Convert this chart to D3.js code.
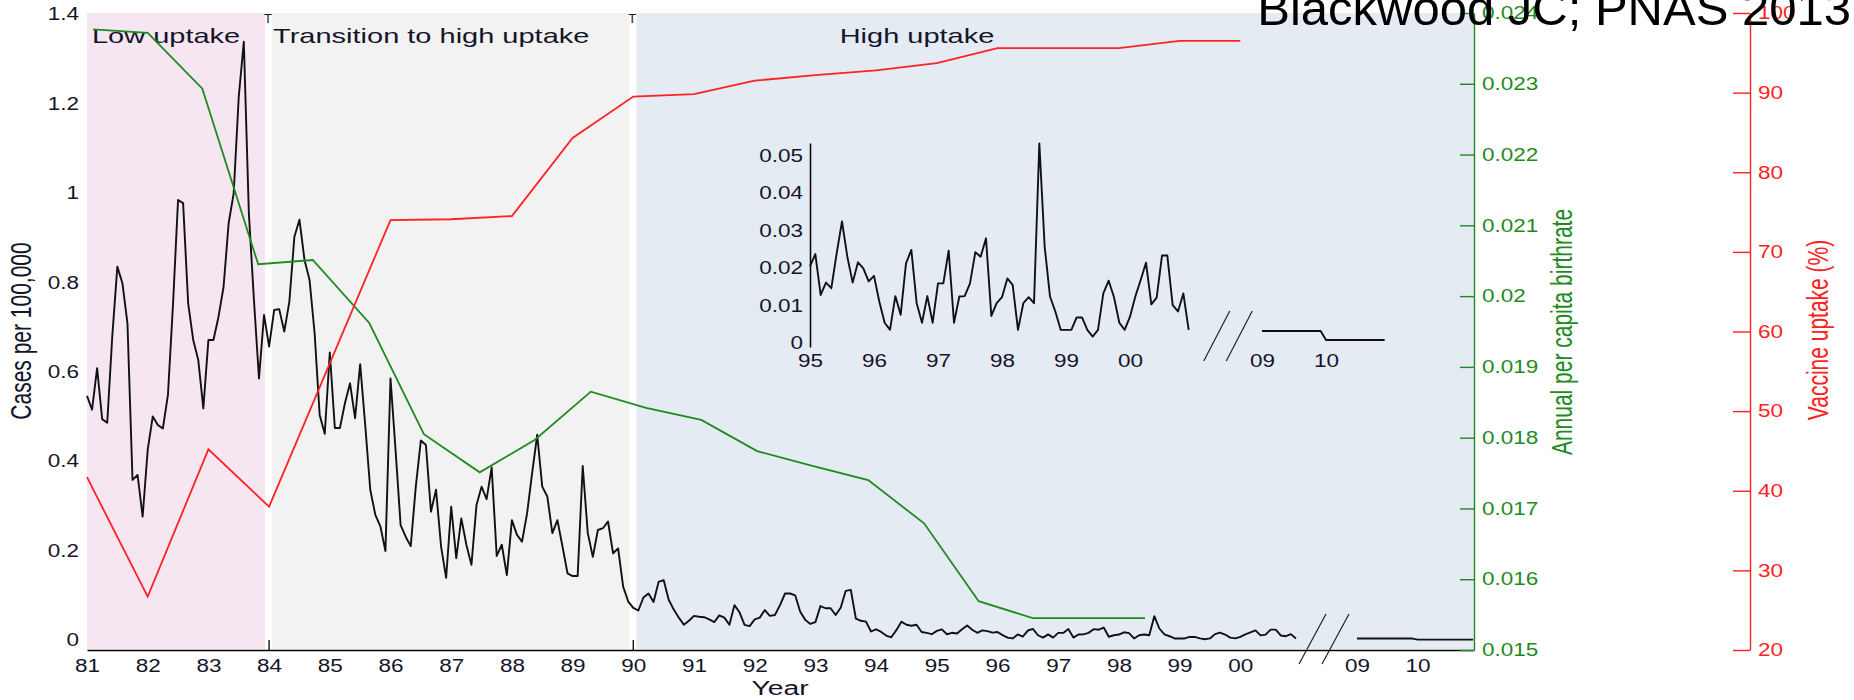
<!DOCTYPE html>
<html>
<head>
<meta charset="utf-8">
<script src="https://cdn.jsdelivr.net/npm/d3@7"></script>
<style>
  html, body { margin: 0; padding: 0; background: #fff; }
  svg { display: block; }
</style>
</head>
<body>
<svg id="chart" width="1854" height="700"></svg>
<script>
// monthly cases per 100,000 (Jan 1981 - Dec 1994)
const cases8194 = [
  0.546, 0.515, 0.608, 0.494, 0.486, 0.68, 0.835, 0.798, 0.708, 0.358, 0.369, 0.276,
  0.425, 0.500, 0.481, 0.473, 0.548, 0.75, 0.984, 0.977, 0.753, 0.671, 0.626, 0.518,
  0.671, 0.671, 0.723, 0.790, 0.932, 0.999, 1.215, 1.338, 0.954, 0.761, 0.585, 0.727,
  0.656, 0.738, 0.740, 0.690, 0.756, 0.902, 0.940, 0.850, 0.805, 0.686, 0.503, 0.461,
  0.643, 0.474, 0.474, 0.530, 0.574, 0.496, 0.617, 0.481, 0.336, 0.280, 0.254, 0.199,
  0.585, 0.425, 0.257, 0.231, 0.210, 0.343, 0.446, 0.436, 0.287, 0.336, 0.209, 0.139,
  0.298, 0.183, 0.272, 0.213, 0.168, 0.302, 0.343, 0.315, 0.386, 0.188, 0.213, 0.145,
  0.268, 0.235, 0.220, 0.283, 0.373, 0.459, 0.343, 0.321, 0.239, 0.268, 0.209, 0.149,
  0.143, 0.143, 0.389, 0.239, 0.186, 0.246, 0.250, 0.265, 0.194, 0.205, 0.119, 0.086,
  0.072, 0.066, 0.095, 0.104, 0.085, 0.130, 0.134, 0.090, 0.068, 0.050, 0.034, 0.043,
  0.054, 0.052, 0.051, 0.046, 0.040, 0.055, 0.050, 0.034, 0.078, 0.062, 0.034, 0.031,
  0.046, 0.050, 0.067, 0.054, 0.056, 0.078, 0.104, 0.104, 0.100, 0.063, 0.045, 0.036,
  0.040, 0.076, 0.071, 0.071, 0.056, 0.072, 0.110, 0.112, 0.048, 0.043, 0.041, 0.019,
  0.024, 0.018, 0.010, 0.006, 0.022, 0.041, 0.034, 0.032, 0.034, 0.018, 0.016, 0.013
];
// monthly cases (Jan 1995 - Dec 2000)
const cases9500 = [
  0.0204, 0.0237, 0.0128, 0.0161, 0.0146, 0.0239, 0.0324, 0.0230, 0.0161, 0.0215, 0.0199, 0.0164,
  0.0179, 0.0110, 0.0054, 0.0035, 0.0125, 0.0075, 0.0212, 0.0248, 0.0106, 0.0054, 0.0125, 0.0054,
  0.0159, 0.0159, 0.0246, 0.0054, 0.0124, 0.0125, 0.0159, 0.0242, 0.0230, 0.0279, 0.0072, 0.0106,
  0.0122, 0.0172, 0.0155, 0.0035, 0.0106, 0.0122, 0.0106, 0.0532, 0.0257, 0.0124, 0.0084, 0.0035,
  0.0035, 0.0035, 0.0068, 0.0068, 0.0035, 0.0017, 0.0035, 0.0132, 0.0166, 0.0122, 0.0054, 0.0035,
  0.0070, 0.0124, 0.0168, 0.0214, 0.0103, 0.0121, 0.0233, 0.0233, 0.0101, 0.0084, 0.0132, 0.0035
];
// monthly cases (Jan 2009 - Dec 2010)
const cases0910 = [
  0.0032, 0.0032, 0.0032, 0.0032, 0.0032, 0.0032, 0.0032, 0.0032, 0.0032, 0.0032, 0.0032, 0.0032,
  0.0008, 0.0008, 0.0008, 0.0008, 0.0008, 0.0008, 0.0008, 0.0008, 0.0008, 0.0008, 0.0008, 0.0008
];

// annual per capita birthrate (positions as plotted)
const birthYears = [1981.1, 1982.0, 1982.9, 1983.82, 1984.72, 1985.65, 1986.55, 1987.47, 1988.38, 1989.3,
  1990.21, 1991.12, 1992.04, 1992.95, 1993.87, 1994.79, 1995.69, 1996.58, 1997.5, 1998.43];
const birthRates = [0.02377, 0.02372, 0.02293, 0.02045, 0.02051, 0.01962, 0.01805, 0.01751, 0.01797, 0.01865,
  0.01842, 0.01825, 0.01781, 0.01760, 0.01740, 0.01679, 0.01569, 0.01545, 0.01545, 0.01545];

// vaccine uptake (%)
const uptakeYears = [1981, 1982, 1983, 1984, 1986, 1987, 1988, 1989, 1990, 1991, 1992, 1993, 1994, 1995, 1996, 1997, 1998, 1999, 2000];
const uptakeValues = [41.7, 26.7, 45.2, 38.0, 74.0, 74.1, 74.5, 84.3, 89.5, 89.8, 91.5, 92.2, 92.8, 93.7, 95.6, 95.6, 95.6, 96.5, 96.5];

const periodNames = ["Low uptake", "Transition to high uptake", "High uptake"];
const periodBounds = [1981, 1984, 1990, 2010.93];

const xTickYears = [1981, 1982, 1983, 1984, 1985, 1986, 1987, 1988, 1989, 1990, 1991, 1992, 1993, 1994,
  1995, 1996, 1997, 1998, 1999, 2000, 2009, 2010];
const casesTicks = [0, 0.2, 0.4, 0.6, 0.8, 1, 1.2, 1.4];
const birthTicks = [0.015, 0.016, 0.017, 0.018, 0.019, 0.02, 0.021, 0.022, 0.023, 0.024];
const uptakeTicks = [20, 30, 40, 50, 60, 70, 80, 90, 100];
const insetXTicks = [1995, 1996, 1997, 1998, 1999, 2000, 2009, 2010];
const insetYTicks = [0, 0.01, 0.02, 0.03, 0.04, 0.05];

const FONT = '"Liberation Sans", Arial, Helvetica, sans-serif';
const GREEN = "#1f8a1f";
const RED = "#ff2222";
const INK = "#15152a";
const SX = 1.25;      // horizontal stretch of the original figure text
const bgColors = ["#f6e6f1", "#f2f2f2", "#e5ebf3"];

const svg = d3.select("#chart").attr("font-family", FONT);

const x = d3.scaleLinear().domain([1981, 2001, 2009, 2010.93]).range([87, 1301, 1357, 1474]);
const yL = d3.scaleLinear().domain([0, 1.4]).range([640, 14]);
const yG = d3.scaleLinear().domain([0.015, 0.024]).range([650, 13]);
const yR = d3.scaleLinear().domain([20, 100]).range([650, 13]);

const xI = d3.scaleLinear().domain([1995, 2001, 2009, 2011]).range([810, 1194, 1262, 1390]);
const yI = d3.scaleLinear().domain([-0.00107, 0.0533]).range([347, 143]);

const TOP = 13, BOTTOM = 649;

// stretched text helper
function stext(parent, px, py, str, size, opts = {}) {
  const sx = opts.sx || SX;
  const rot = opts.rotate ? ` rotate(${opts.rotate})` : "";
  return parent.append("text")
    .attr("transform", `translate(${px},${py}) scale(${sx},1)${rot}`)
    .attr("font-size", size)
    .attr("text-anchor", opts.anchor || "start")
    .attr("dominant-baseline", opts.baseline || "auto")
    .attr("fill", opts.fill || INK)
    .text(str);
}

function stretchTicks(g, sx) {
  g.selectAll(".tick text").each(function() {
    const t = d3.select(this);
    const tx = +t.attr("x") || 0, ty = +t.attr("y") || 0;
    t.attr("transform", `translate(${tx},${ty}) scale(${sx},1)`).attr("x", null).attr("y", null);
  });
}

// background periods
periodNames.forEach((name, i) => {
  const left = i === 0 ? x(periodBounds[i]) : x(periodBounds[i]) + 3;
  const right = i === periodNames.length - 1 ? x(periodBounds[i + 1]) : x(periodBounds[i + 1]) - 4;
  svg.append("rect")
    .attr("x", left).attr("y", TOP)
    .attr("width", right - left).attr("height", BOTTOM - TOP)
    .attr("fill", bgColors[i]);
});

// period labels
const labelX = [x(1981) + 5, x(1984) + 4, x(1993.4)];
periodNames.forEach((name, i) => {
  stext(svg, labelX[i], 43, name, 20, {sx: 1.45});
});

// little T marks at top of period boundaries
[1984, 1990].forEach(yr => {
  svg.append("text")
    .attr("x", x(yr) - 1).attr("y", 23)
    .attr("font-size", 13).attr("text-anchor", "middle").attr("fill", INK)
    .text("T");
});

// x axis
const gx = svg.append("g")
  .attr("transform", `translate(0,650)`)
  .call(d3.axisBottom(x).tickValues(xTickYears).tickSize(0).tickPadding(9)
    .tickFormat(d => String(d).slice(2)));
gx.attr("font-size", 18).attr("font-family", FONT);
gx.select(".domain").attr("stroke", "#000").attr("stroke-width", 1.6);
gx.selectAll(".tick text").attr("fill", INK);
stretchTicks(gx, SX);

[1984, 1990].forEach(yr => {
  svg.append("line")
    .attr("x1", x(yr)).attr("x2", x(yr)).attr("y1", 640).attr("y2", 650)
    .attr("stroke", "#000").attr("stroke-width", 1.3);
});

stext(svg, 780, 695, "Year", 21, {anchor: "middle", sx: 1.35});

// left axis (labels only)
const gl = svg.append("g")
  .attr("transform", `translate(87,0)`)
  .call(d3.axisLeft(yL).tickValues(casesTicks).tickSize(0).tickPadding(8)
    .tickFormat(d => String(+d.toFixed(1))));
gl.attr("font-size", 18).attr("font-family", FONT);
gl.select(".domain").remove();
gl.selectAll(".tick text").attr("fill", INK);
stretchTicks(gl, SX);

stext(svg, 21, 331, "Cases per 100,000", 21, {anchor: "middle", baseline: "central", rotate: -90, sx: 1.4});

// green axis
const gg = svg.append("g")
  .attr("transform", `translate(1474,0)`)
  .call(d3.axisRight(yG).tickValues(birthTicks).tickSizeInner(-14).tickSizeOuter(0).tickPadding(8)
    .tickFormat(d => String(+d.toFixed(3))));
gg.attr("font-size", 18).attr("font-family", FONT).attr("color", GREEN);
gg.selectAll("path, line").attr("stroke-width", 1.4);
stretchTicks(gg, SX);

stext(svg, 1562, 332, "Annual per capita birthrate", 21, {anchor: "middle", baseline: "central", rotate: -90, sx: 1.4, fill: GREEN});

// red axis
const gr = svg.append("g")
  .attr("transform", `translate(1750,0)`)
  .call(d3.axisRight(yR).tickValues(uptakeTicks).tickSizeInner(-17).tickSizeOuter(0).tickPadding(8));
gr.attr("font-size", 18).attr("font-family", FONT).attr("color", RED);
gr.selectAll("path, line").attr("stroke-width", 1.4);
stretchTicks(gr, SX);

stext(svg, 1818, 330, "Vaccine uptake (%)", 21, {anchor: "middle", baseline: "central", rotate: -90, sx: 1.4, fill: RED});

// axis break marks
function breakMarks(cx, cy, dx, dy, gap) {
  [-gap / 2, gap / 2].forEach(o => {
    svg.append("line")
      .attr("x1", cx + o - dx).attr("y1", cy + dy)
      .attr("x2", cx + o + dx).attr("y2", cy - dy)
      .attr("stroke", "#222").attr("stroke-width", 1.2);
  });
}
breakMarks(1324, 639, 13.5, 25, 23);
breakMarks(1228, 336, 13, 25, 22.5);

// series lines
const mainCases = cases8194.map((v, i) => ({t: 1981 + i / 12, v}))
  .concat(cases9500.map((v, i) => ({t: 1995 + i / 12, v})));
const lateCases = cases0910.map((v, i) => ({t: 2009 + i / 12, v}));

const lineMain = d3.line().x(d => x(d.t)).y(d => yL(d.v));
[mainCases, lateCases].forEach(seg => {
  svg.append("path").datum(seg)
    .attr("d", lineMain)
    .attr("fill", "none").attr("stroke", "#111").attr("stroke-width", 1.9)
    .attr("stroke-linejoin", "round");
});

const birth = birthYears.map((t, i) => ({t, v: birthRates[i]}));
svg.append("path").datum(birth)
  .attr("d", d3.line().x(d => x(d.t)).y(d => yG(d.v)))
  .attr("fill", "none").attr("stroke", GREEN).attr("stroke-width", 1.8);

const uptake = uptakeYears.map((t, i) => ({t, v: uptakeValues[i]}));
svg.append("path").datum(uptake)
  .attr("d", d3.line().x(d => x(d.t)).y(d => yR(d.v)))
  .attr("fill", "none").attr("stroke", RED).attr("stroke-width", 1.8);

// inset
const gi = svg.append("g")
  .attr("transform", `translate(810,0)`)
  .call(d3.axisLeft(yI).tickValues(insetYTicks).tickSize(0).tickPadding(7)
    .tickFormat(d => String(+d.toFixed(2))));
gi.attr("font-size", 18).attr("font-family", FONT);
gi.select(".domain").attr("stroke", "#000").attr("stroke-width", 1.5);
gi.selectAll(".tick text").attr("fill", INK);
stretchTicks(gi, SX);

const gix = svg.append("g")
  .attr("transform", `translate(0,347)`)
  .call(d3.axisBottom(xI).tickValues(insetXTicks).tickSize(0).tickPadding(7)
    .tickFormat(d => String(d).slice(2)));
gix.attr("font-size", 18).attr("font-family", FONT);
gix.select(".domain").remove();
gix.selectAll(".tick text").attr("fill", INK);
stretchTicks(gix, SX);

const insetEarly = cases9500.map((v, i) => ({t: 1995 + i / 12, v}));
const lineInset = d3.line().x(d => xI(d.t)).y(d => yI(d.v));
[insetEarly, lateCases].forEach(seg => {
  svg.append("path").datum(seg)
    .attr("d", lineInset)
    .attr("fill", "none").attr("stroke", "#111").attr("stroke-width", 1.9)
    .attr("stroke-linejoin", "round");
});

// source note
svg.append("text")
  .attr("x", 1851).attr("y", 25)
  .attr("font-size", 49).attr("text-anchor", "end").attr("fill", "#000")
  .text("Blackwood JC; PNAS 2013");
</script>
</body>
</html>
